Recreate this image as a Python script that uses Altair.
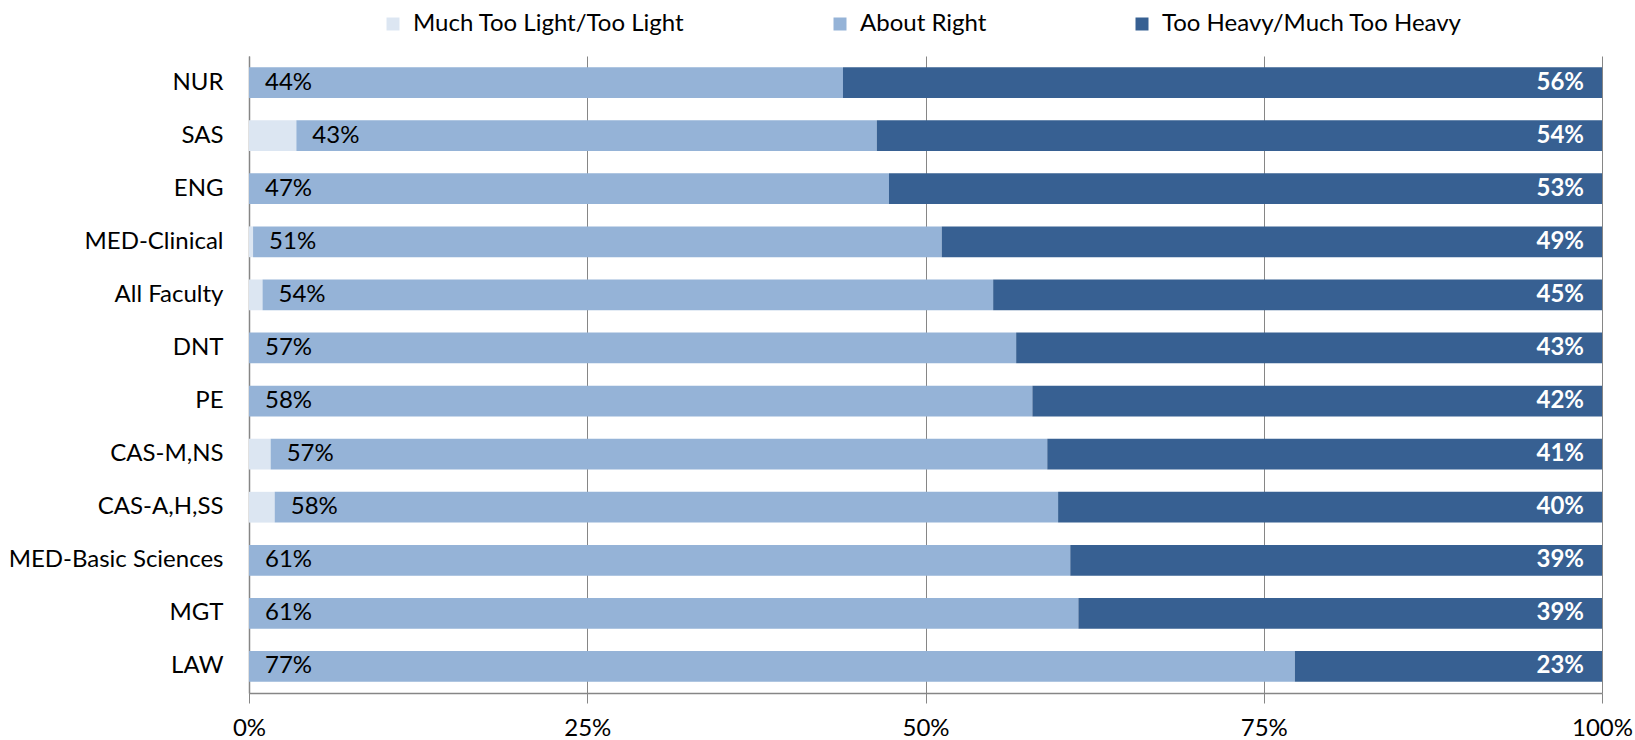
import altair as alt
import pandas as pd

# Survey responses by unit (percent of respondents)
categories = ["NUR", "SAS", "ENG", "MED-Clinical", "All Faculty", "DNT", "PE",
              "CAS-M,NS", "CAS-A,H,SS", "MED-Basic Sciences", "MGT", "LAW"]
too_light = [0.0, 3.5, 0.0, 0.3, 1.0, 0.0, 0.0, 1.6, 1.9, 0.0, 0.0, 0.0]
about_right = [43.9, 42.9, 47.3, 50.9, 54.0, 56.7, 57.9, 57.4, 57.9, 60.7, 61.3, 77.3]
too_heavy = [56.1, 53.6, 52.7, 48.8, 45.0, 43.3, 42.1, 41.0, 40.2, 39.3, 38.7, 22.7]

series = ["Much Too Light/Too Light", "About Right", "Too Heavy/Much Too Heavy"]
colors = ["#DCE6F2", "#95B3D7", "#376092"]
x_ticks = [0, 25, 50, 75, 100]

FONT = "Lato"
FS = 24
GRID = "#868686"

rows = []
for i, cat in enumerate(categories):
    for k, vals in enumerate([too_light, about_right, too_heavy]):
        rows.append({"cat": cat, "series": series[k], "value": vals[i], "order": k})
long_df = pd.DataFrame(rows)

wide_df = pd.DataFrame({
    "cat": categories,
    "light": too_light,
    "about": about_right,
    "heavy": too_heavy,
})

y_enc = alt.Y(
    "cat:N",
    sort=categories,
    scale=alt.Scale(paddingInner=0.42, paddingOuter=0.21),
    axis=alt.Axis(title=None, ticks=False, labelPadding=26, labelFontSize=FS,
                  labelFont=FONT, labelColor="black", labelLimit=0,
                  domainColor=GRID, domainWidth=1.5, grid=False),
)

x_scale = alt.Scale(domain=[0, 100], nice=False)

bars = alt.Chart(long_df).mark_bar().encode(
    x=alt.X(
        "value:Q",
        stack="zero",
        scale=x_scale,
        axis=alt.Axis(title=None, values=x_ticks, labelExpr="datum.value + '%'",
                      labelFlush=False, tickSize=10, tickColor=GRID, grid=True,
                      gridColor=GRID, gridWidth=1, domainColor=GRID,
                      domainWidth=1.5, labelPadding=13, labelFontSize=FS,
                      labelFont=FONT, labelColor="black"),
    ),
    y=y_enc,
    color=alt.Color(
        "series:N",
        scale=alt.Scale(domain=series, range=colors),
        legend=alt.Legend(
            title=None, orient="none", direction="horizontal",
            legendX=132, legendY=-44, symbolType="square", symbolSize=169,
            symbolStrokeWidth=0, labelFont=FONT, labelFontSize=FS,
            labelColor="black", labelOffset=8, columnPadding=143,
            labelLimit=400, padding=0,
        ),
    ),
    order=alt.Order("order:Q"),
)

about_labels = alt.Chart(wide_df).transform_calculate(
    label="format(datum.about, '.0f') + '%'"
).mark_text(align="left", baseline="middle", dx=16, font=FONT, fontSize=FS,
            color="black").encode(
    x=alt.X("light:Q", scale=x_scale),
    y=y_enc,
    text="label:N",
)

heavy_labels = alt.Chart(wide_df).transform_calculate(
    total="datum.light + datum.about + datum.heavy",
    label="format(datum.heavy, '.0f') + '%'",
).mark_text(align="right", baseline="middle", dx=-18, font=FONT, fontSize=FS,
            fontWeight="bold", color="white").encode(
    x=alt.X("total:Q", scale=x_scale),
    y=y_enc,
    text="label:N",
)

chart = alt.layer(bars, about_labels, heavy_labels).properties(
    width=1353,
    height=637,
    autosize=alt.AutoSizeParams(type="none"),
    padding={"left": 249, "top": 56, "right": 33, "bottom": 47},
    background="white",
).configure_view(stroke=None)

chart.save("out.html", embed_options={"renderer": "svg", "actions": False})
